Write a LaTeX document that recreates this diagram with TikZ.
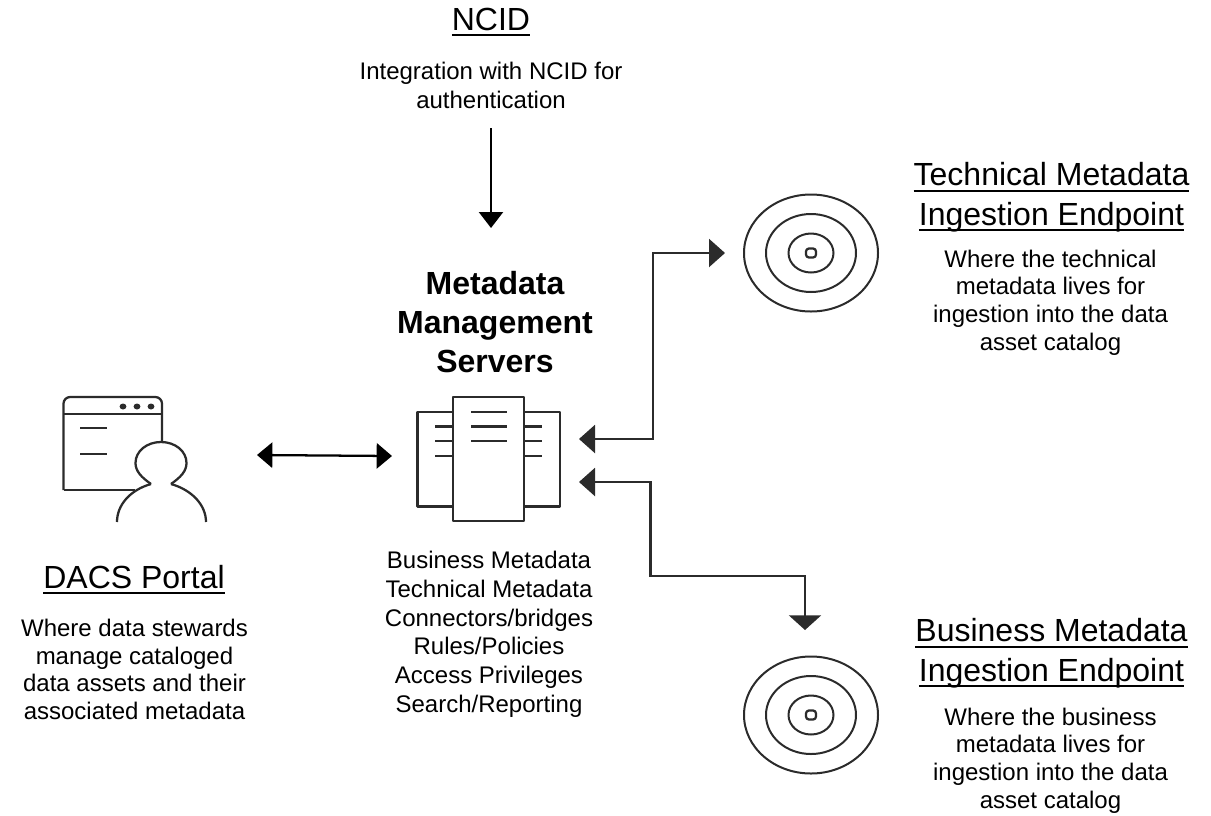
\documentclass[tikz,border=0pt]{standalone}
\usepackage{fontspec}
\setmainfont{Liberation Sans}
\usetikzlibrary{arrows.meta}
\definecolor{ink}{HTML}{2B2B2B}
\newcommand{\hul}[1]{\setbox0=\hbox{#1}\rlap{\rule[-4.5pt]{\wd0}{1.8pt}}\box0}
\tikzset{
  x=0.75pt,y=-0.75pt,
  icon/.style={draw=ink,line width=1.7pt,line join=round},
  thin icon/.style={draw=ink,line width=1.6pt},
  head/.style={align=center,inner sep=0pt,anchor=base,font=\fontsize{24}{29.3}\selectfont},
  body/.style={align=center,inner sep=0pt,anchor=base,font=\fontsize{18}{20.7}\selectfont},
  wide body/.style={align=center,inner sep=0pt,anchor=base,font=\fontsize{18}{21.5}\selectfont},
  bold head/.style={align=center,inner sep=0pt,anchor=base,font=\fontsize{24}{28.9}\selectfont\bfseries},
  conn/.style={draw=black,line width=1.7pt},
  connb/.style={draw=ink,line width=1.7pt,line join=miter},
  tipv/.style={-{Triangle[length=12pt,width=18pt,fill=black]}},
  tipr/.style={{Triangle[length=12pt,width=21pt,fill=ink]}-{Triangle[length=12pt,width=21pt,fill=ink]}},
  tipd/.style={{Triangle[length=12pt,width=21pt,fill=ink]}-{Triangle[length=11pt,width=24pt,fill=ink]}},
  tiph/.style={{Triangle[length=11.5pt,width=19pt]}-{Triangle[length=11.5pt,width=19pt]}},
}
\begin{document}
\begin{tikzpicture}
\useasboundingbox (0,0) rectangle (1211,815);
% Titles and texts
\node[head] (ncidT) at (491,30) {\hul{NCID}};
\node[wide body] (ncidB) at (491,108) {Integration with NCID for\\authentication};
\node[bold head] (mms) at (495,372) {Metadata\\Management\\Servers};
\node[wide body] (list) at (489,712) {Business Metadata\\Technical Metadata\\Connectors/bridges\\Rules/Policies\\Access Privileges\\Search/Reporting};
\node[head] (dacsT) at (134,588) {\hul{DACS Portal}};
\node[body] (dacsB) at (134.5,719.5) {Where data stewards\\manage cataloged\\data assets and their\\associated metadata};
\node[head] (techT) at (1051.5,225) {\hul{Technical Metadata}\\\hul{Ingestion Endpoint}};
\node[body] (techB) at (1050.5,350) {Where the technical\\metadata lives for\\ingestion into the data\\asset catalog};
\node[head] (busT) at (1051.5,681) {\hul{Business Metadata}\\\hul{Ingestion Endpoint}};
\node[body] (busB) at (1050.5,808) {Where the business\\metadata lives for\\ingestion into the data\\asset catalog};
% Portal icon
\draw[icon,rounded corners=5pt] (63.5,490) -- (63.5,397) -- (162,397) -- (162,445);
\draw[icon] (63.5,490) -- (135,490);
\draw[icon] (63.5,414) -- (162,414);
\foreach \x in {123,137,151} \fill[ink] (\x,406.5) ellipse (3.4 and 3);
\draw[thin icon] (80,428) -- (107,428) (80,454) -- (107,454);
\draw[icon,fill=white] (151,484) .. controls (141,477) and (135.5,471) .. (135.5,463) .. controls (135.5,451) and (147,442) .. (161,442) .. controls (175,442) and (186.5,451) .. (186.5,463) .. controls (186.5,471) and (181,477) .. (171,484);
\draw[icon] (151,484) .. controls (130,490) and (117,505) .. (117,522);
\draw[icon] (171,484) .. controls (192,490) and (206,505) .. (206,522);
% Server icon
\draw[icon] (417.5,412) rectangle (453,506.5);
\draw[icon] (524,412) rectangle (560,506.5);
\draw[thin icon] (435,426.5) -- (453,426.5) (435,441) -- (453,441) (435,456) -- (453,456);
\draw[thin icon] (524,426.5) -- (542,426.5) (524,441) -- (542,441) (524,456) -- (542,456);
\draw[icon,fill=white] (453,397) rectangle (524,521);
\draw[thin icon] (471,412) -- (507,412) (471,426.5) -- (507,426.5) (471,441) -- (507,441);
% Target icons
\foreach \c in {253,715}{
  \draw[icon,line width=1.5pt] (811,\c) ellipse (67 and 58.5);
  \draw[icon,line width=1.5pt] (811,\c) ellipse (45 and 39);
  \draw[icon,line width=1.5pt] (811,\c) ellipse (22.5 and 19.5);
  \draw[icon,rounded corners=2.2pt] (806,\c-4.5) rectangle (816,\c+4.5);
}
% Connector anchors
\coordinate (ncidOut) at (491,128);
\coordinate (srvTop) at (491,228);
\coordinate (portalR) at (257,455);
\coordinate (srvL) at (392,456);
\coordinate (srvR1) at (579,439);
\coordinate (srvR2) at (579,482);
\coordinate (techIn) at (725,253);
\coordinate (busIn) at (805,630);
\coordinate (bend1) at (653,439);
\coordinate (bend2) at (653,253);
\coordinate (bend3) at (650.5,482);
\coordinate (bend4) at (650.5,576);
\coordinate (bend5) at (805,576);
\draw[conn,tipv] (ncidOut) -- (srvTop);
\draw[conn,tiph] (portalR) -- (srvL);
\draw[connb,tipr] (srvR1) -- (bend1) -- (bend2) -- (techIn);
\draw[connb,tipd] (srvR2) -- (bend3) -- (bend4) -- (bend5) -- (busIn);
\end{tikzpicture}
\end{document}
